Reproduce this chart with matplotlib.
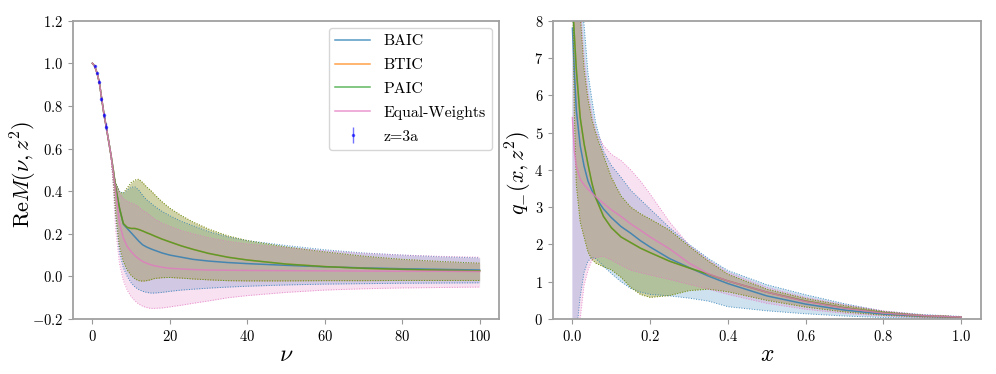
import numpy as np
import matplotlib
matplotlib.use('Agg')
from matplotlib import pyplot

pyplot.rcParams['font.family'] = 'serif'
pyplot.rcParams['font.serif'] = ['cmr10']
pyplot.rcParams['mathtext.fontset'] = 'cm'
pyplot.rcParams['axes.formatter.use_mathtext'] = True
pyplot.rcParams['axes.unicode_minus'] = True

# 
# left panel: Re M(nu, z^2)
# 
nu = [0, 0.6, 1.2, 1.8, 2.4, 3.0, 3.6, 4.2, 4.8, 5.4, 6, 7, 8, 9, 10, 11, 12, 13, 14, 15,
      16, 18, 20, 23, 26, 30, 35, 40, 50, 60, 70, 80, 90, 100]
descent = [1.0, 0.987, 0.955, 0.91, 0.835, 0.76, 0.70, 0.635, 0.57]

M_baic = descent + [0.50, 0.42, 0.32, 0.245, 0.225, 0.205, 0.185, 0.165, 0.148, 0.138, 0.13,
                    0.123, 0.11, 0.10, 0.09, 0.08, 0.072, 0.065, 0.06, 0.052, 0.045, 0.04, 0.036, 0.033, 0.03]
M_baic_hi = descent + [0.48, 0.44, 0.40, 0.39, 0.405, 0.418, 0.42, 0.405, 0.38, 0.36, 0.345,
                       0.33, 0.305, 0.285, 0.258, 0.238, 0.21, 0.185, 0.168, 0.145, 0.125, 0.11, 0.10, 0.092, 0.087]
M_baic_lo = descent + [0.44, 0.28, 0.11, 0.04, 0.0, -0.03, -0.05, -0.062, -0.07, -0.075, -0.078,
                       -0.078, -0.075, -0.07, -0.064, -0.06, -0.055, -0.05, -0.046, -0.04, -0.036, -0.034, -0.032, -0.031, -0.03]

M_paic = descent + [0.50, 0.42, 0.32, 0.248, 0.23, 0.225, 0.225, 0.22, 0.213, 0.205, 0.198,
                    0.19, 0.175, 0.162, 0.143, 0.127, 0.108, 0.09, 0.077, 0.058, 0.046, 0.038, 0.033, 0.029, 0.026]
M_paic_hi = descent + [0.48, 0.44, 0.395, 0.39, 0.415, 0.44, 0.452, 0.456, 0.44, 0.42, 0.405,
                       0.385, 0.35, 0.32, 0.285, 0.255, 0.222, 0.19, 0.168, 0.138, 0.115, 0.095, 0.08, 0.07, 0.062]
M_paic_lo = descent + [0.45, 0.30, 0.14, 0.07, 0.03, 0.005, -0.012, -0.02, -0.022, -0.02, -0.016,
                       -0.01, -0.006, -0.005, -0.008, -0.012, -0.016, -0.02, -0.021, -0.021, -0.02, -0.02, -0.019, -0.019, -0.019]

M_ew = descent + [0.49, 0.40, 0.25, 0.18, 0.14, 0.117, 0.097, 0.082, 0.07, 0.062, 0.055,
                  0.05, 0.043, 0.038, 0.035, 0.032, 0.03, 0.029, 0.028, 0.027, 0.026, 0.025, 0.024, 0.024, 0.023]
M_ew_hi = descent + [0.47, 0.43, 0.39, 0.365, 0.352, 0.345, 0.338, 0.325, 0.31, 0.30, 0.285,
                     0.27, 0.25, 0.235, 0.215, 0.20, 0.182, 0.165, 0.152, 0.135, 0.12, 0.108, 0.10, 0.094, 0.09]
M_ew_lo = descent + [0.42, 0.22, 0.06, -0.02, -0.065, -0.095, -0.115, -0.13, -0.14, -0.146, -0.15,
                     -0.15, -0.148, -0.143, -0.135, -0.126, -0.115, -0.10, -0.09, -0.075, -0.064, -0.058, -0.054, -0.052, -0.05]

# lattice data z=3a
nu_data = [0.589, 1.178, 1.767, 2.356, 2.945, 3.534]
M_data = [0.988, 0.956, 0.913, 0.834, 0.756, 0.703]
M_data_err = [0.003, 0.005, 0.007, 0.010, 0.012, 0.018]

# 
# right panel: q_-(x, z^2)
# 
xq = [0.0, 0.005, 0.01, 0.02, 0.03, 0.04, 0.05, 0.06, 0.08, 0.10, 0.125, 0.15, 0.175, 0.20,
      0.25, 0.30, 0.35, 0.40, 0.50, 0.60, 0.70, 0.80, 0.90, 1.00]

q_baic = [7.8, 6.6, 5.6, 4.65, 4.1, 3.7, 3.45, 3.25, 2.95, 2.72, 2.48, 2.3, 2.1, 1.93,
          1.62, 1.38, 1.15, 0.95, 0.62, 0.40, 0.24, 0.13, 0.07, 0.04]
q_baic_hi = [12.0, 11.0, 10.0, 8.8, 7.9, 6.6, 5.9, 5.25, 4.5, 4.12, 3.8, 3.45, 3.2, 2.95,
             2.45, 2.0, 1.62, 1.3, 0.92, 0.65, 0.41, 0.21, 0.12, 0.07]
q_baic_lo = [-3.0, -1.5, -0.4, 0.6, 1.25, 1.55, 1.65, 1.62, 1.42, 1.22, 1.0, 0.82, 0.72, 0.66,
             0.62, 0.56, 0.48, 0.33, 0.22, 0.14, 0.08, 0.04, 0.02, 0.01]

q_paic = [8.6, 7.6, 6.7, 5.4, 4.7, 4.15, 3.65, 3.25, 2.75, 2.45, 2.2, 2.05, 1.9, 1.78,
          1.55, 1.37, 1.2, 1.02, 0.72, 0.48, 0.30, 0.17, 0.09, 0.05]
q_paic_hi = [14.0, 13.0, 11.0, 8.2, 6.7, 5.9, 5.35, 4.98, 4.38, 3.8, 3.3, 3.0, 2.82, 2.68,
             2.38, 1.95, 1.55, 1.2, 0.80, 0.55, 0.36, 0.20, 0.10, 0.06]
q_paic_lo = [9.5, 5.5, 3.6, 2.6, 2.2, 1.8, 1.6, 1.5, 1.4, 1.32, 1.12, 0.85, 0.66, 0.58,
             0.63, 0.76, 0.80, 0.73, 0.50, 0.32, 0.19, 0.10, 0.05, 0.03]

q_ew = [5.4, 4.5, 4.1, 3.75, 3.6, 3.48, 3.38, 3.28, 3.1, 2.93, 2.75, 2.55, 2.38, 2.2,
        1.88, 1.5, 1.21, 1.02, 0.72, 0.47, 0.29, 0.16, 0.09, 0.05]
q_ew_hi = [13.0, 12.0, 10.5, 8.4, 7.0, 6.1, 5.5, 5.05, 4.65, 4.42, 4.25, 4.0, 3.7, 3.35,
           2.6, 1.98, 1.58, 1.25, 0.85, 0.58, 0.38, 0.22, 0.11, 0.06]
q_ew_lo = [-3.0, -2.0, -1.2, 0.0, 0.9, 1.3, 1.58, 1.65, 1.68, 1.58, 1.44, 1.31, 1.24, 1.18,
           1.06, 0.93, 0.80, 0.66, 0.42, 0.26, 0.15, 0.08, 0.04, 0.02]

labels = ['BAIC', 'BTIC', 'PAIC', 'Equal-Weights']
colors = ['tab:blue', 'tab:orange', 'tab:green', 'tab:pink']
left_sets = [(M_baic, M_baic_lo, M_baic_hi), (M_paic, M_paic_lo, M_paic_hi),
             (M_paic, M_paic_lo, M_paic_hi), (M_ew, M_ew_lo, M_ew_hi)]
right_sets = [(q_baic, q_baic_lo, q_baic_hi), (q_paic, q_paic_lo, q_paic_hi),
              (q_paic, q_paic_lo, q_paic_hi), (q_ew, q_ew_lo, q_ew_hi)]

fig = pyplot.figure(figsize=(9.96, 3.74), dpi=100)
ax1 = fig.add_axes([0.0733, 0.147, 0.4277, 0.7977])
ax2 = fig.add_axes([0.5552, 0.147, 0.4294, 0.7977])


def draw_bands(ax, xx, sets):
    for lab, col, (c, lo, hi) in zip(labels, colors, sets):
        ax.plot(xx, c, color=col, lw=1.1, alpha=0.75, label=lab)
        ax.fill_between(xx, lo, hi, color=col, alpha=0.22, lw=0)
        ax.plot(xx, lo, color=col, lw=0.7, ls=':', alpha=0.8)
        ax.plot(xx, hi, color=col, lw=0.7, ls=':', alpha=0.8)


draw_bands(ax1, nu, left_sets)
ax1.errorbar(nu_data, M_data, yerr=M_data_err, fmt='o', ms=1.5, color='blue', elinewidth=1.0,
             alpha=0.55, label='z=3a', zorder=5)
ax1.set_xlim(-5, 105)
ax1.set_ylim(-0.2, 1.2)
ax1.set_xticks([0, 20, 40, 60, 80, 100])
ax1.set_yticks([-0.2, 0.0, 0.2, 0.4, 0.6, 0.8, 1.0, 1.2])
ax1.set_xlabel(r'$\nu$', fontsize=17, labelpad=0)
ax1.set_ylabel(r'$\mathrm{Re}M(\nu,z^2)$', fontsize=16)
ax1.yaxis.set_label_coords(-0.08, 0.485)
ax1.legend(loc='upper right', fontsize=11.4, labelspacing=0.62, handlelength=2.2,
           handletextpad=0.84, borderaxespad=0.45)

draw_bands(ax2, xq, right_sets)
ax2.set_xlim(-0.05, 1.05)
ax2.set_ylim(0, 8)
ax2.set_xticks([0.0, 0.2, 0.4, 0.6, 0.8, 1.0])
ax2.set_yticks([0, 1, 2, 3, 4, 5, 6, 7, 8])
ax2.set_xlabel(r'$x$', fontsize=17, labelpad=0)
ax2.set_ylabel(r'$q_{-}(x,z^2)$', fontsize=16)
ax2.yaxis.set_label_coords(-0.045, 0.49)

for ax in [ax1, ax2]:
    ax.tick_params(labelsize=10.5, color='#999999')
    for sp in ax.spines.values():
        sp.set_color('#a0a0a0')
        sp.set_linewidth(1.3)

pyplot.savefig('out.png', dpi=100)
print('Output to "out.png"!')
